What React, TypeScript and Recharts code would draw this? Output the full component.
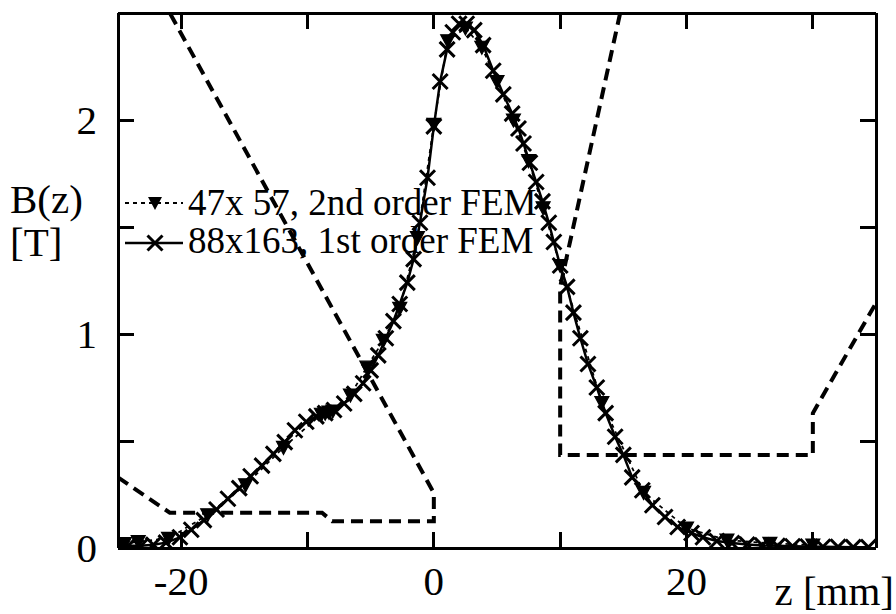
import { LineChart, Line, XAxis, YAxis } from "recharts";

// 88x163, 1st order FEM (x markers)
const firstOrder = [
  [-25.0, 0.01], [-24.2, 0.01], [-23.2, 0.01], [-22.2, 0.015], [-21.2, 0.025],
  [-20.1, 0.05], [-19.2, 0.085], [-18.2, 0.13], [-17.2, 0.18], [-16.3, 0.23],
  [-15.4, 0.28], [-14.5, 0.335], [-13.6, 0.385], [-12.7, 0.44], [-11.8, 0.495],
  [-11.0, 0.55], [-10.1, 0.59], [-9.3, 0.615], [-8.6, 0.63], [-7.9, 0.645],
  [-7.1, 0.675], [-6.3, 0.72], [-5.6, 0.77], [-5.0, 0.83], [-4.4, 0.9],
  [-3.8, 0.98], [-3.2, 1.06], [-2.7, 1.14], [-2.1, 1.24], [-1.6, 1.35],
  [-1.1, 1.52], [-0.5, 1.73], [0.0, 1.97], [0.5, 2.18], [1.05, 2.33],
  [1.5, 2.41], [2.0, 2.45], [2.6, 2.45], [3.2, 2.42], [3.9, 2.35],
  [4.7, 2.23], [5.5, 2.12], [6.2, 2.03], [6.7, 1.96], [7.1, 1.89],
  [7.6, 1.8], [8.1, 1.71], [8.6, 1.62], [9.1, 1.52], [9.5, 1.43],
  [10.0, 1.32], [10.55, 1.22], [11.05, 1.1], [11.6, 0.98], [12.2, 0.86],
  [12.9, 0.75], [13.6, 0.63], [14.35, 0.52], [15.0, 0.435], [15.7, 0.33],
  [16.5, 0.27], [17.3, 0.2], [18.3, 0.145], [19.3, 0.098], [20.4, 0.07],
  [21.3, 0.05], [22.4, 0.033], [23.6, 0.023], [24.8, 0.016], [26.0, 0.012],
  [27.2, 0.01], [28.4, 0.008], [29.6, 0.007], [30.8, 0.006], [32.0, 0.005],
  [33.2, 0.004], [34.4, 0.004],
].map(([z, b]) => ({ z, b }));

// 47x57, 2nd order FEM (filled triangles)
const secondOrder = [
  [-24.5, 0.02], [-23.4, 0.03], [-21.0, 0.045], [-17.9, 0.155], [-14.9, 0.295],
  [-11.9, 0.47], [-8.9, 0.625], [-8.6, 0.63], [-8.3, 0.635], [-8.0, 0.64],
  [-6.6, 0.715], [-5.3, 0.845], [-4.0, 0.97], [-2.7, 1.12], [-1.3, 1.45],
  [0.0, 1.98], [1.1, 2.37], [2.5, 2.43], [3.8, 2.34], [5.0, 2.18],
  [6.3, 2.0], [7.5, 1.81], [8.65, 1.59], [10.0, 1.32], [13.3, 0.68],
  [16.6, 0.26], [20.0, 0.093], [23.2, 0.037], [26.6, 0.022], [30.0, 0.014],
].map(([z, b]) => ({ z, b }));

// pole outline (dashed), two pieces
const outlineLeft = [
  [-25.0, 0.33], [-20.9, 0.165], [-8.85, 0.165], [-8.05, 0.125],
  [0.0, 0.125], [0.0, 0.257], [-20.9, 2.5],
].map(([z, b]) => ({ z, b }));

const outlineRight = [
  [14.75, 2.5], [10.0, 1.22], [10.0, 0.435], [30.0, 0.435],
  [30.0, 0.63], [35.0, 1.145],
].map(([z, b]) => ({ z, b }));

const xTicks = [-20, -10, 0, 10, 20, 30];
const xLabels = [-20, 0, 20];
const yTicks = [0, 0.5, 1, 1.5, 2];
const yLabels = [0, 1, 2];

const FONT = "'Liberation Serif', 'Times New Roman', serif";
const TICK = 16;
const FRAME = 3;

const BottomTick = (p: any) => {
  const v = p.payload.value;
  return (
    <g>
      <line x1={p.x} y1={p.y} x2={p.x} y2={p.y - TICK} stroke="#000" strokeWidth={FRAME} shapeRendering="crispEdges" />
      {xLabels.includes(v) && (
        <text x={p.x} y={p.y + 47} textAnchor="middle" fontSize={41} fontFamily={FONT} fill="#000">
          {v}
        </text>
      )}
    </g>
  );
};

const TopTick = (p: any) => (
  <line x1={p.x} y1={p.y} x2={p.x} y2={p.y + TICK} stroke="#000" strokeWidth={FRAME} shapeRendering="crispEdges" />
);

const LeftTick = (p: any) => {
  const v = p.payload.value;
  return (
    <g>
      <line x1={p.x} y1={p.y} x2={p.x + TICK} y2={p.y} stroke="#000" strokeWidth={FRAME} shapeRendering="crispEdges" />
      {yLabels.includes(v) && (
        <text x={p.x - 21} y={p.y + 14} textAnchor="end" fontSize={41} fontFamily={FONT} fill="#000">
          {v}
        </text>
      )}
    </g>
  );
};

const RightTick = (p: any) => (
  <line x1={p.x} y1={p.y} x2={p.x - TICK} y2={p.y} stroke="#000" strokeWidth={FRAME} shapeRendering="crispEdges" />
);

const triPath = (cx: number, cy: number) =>
  `M${cx - 7},${cy - 6}L${cx + 7},${cy - 6}L${cx},${cy + 7}Z`;

const TriDot = (p: any) => (
  <path key={`t${p.index}`} d={triPath(p.cx, p.cy)} fill="#000" stroke="#000" strokeWidth={1.2} />
);

const crossPath = (cx: number, cy: number, r = 7.5) =>
  `M${cx - r},${cy - r}L${cx + r},${cy + r}M${cx - r},${cy + r}L${cx + r},${cy - r}`;

const CrossDot = (p: any) => (
  <path key={`c${p.index}`} d={crossPath(p.cx, p.cy)} stroke="#000" strokeWidth={3} fill="none" />
);

const axisLine = { stroke: "#000", strokeWidth: FRAME, shapeRendering: "crispEdges" };

export default function App() {
  return (
    <div style={{ position: "absolute", left: 0, top: 0, width: 896, height: 614, background: "#fff" }}>
      <LineChart
        width={896}
        height={614}
        margin={{ top: 12, right: 19, bottom: 65, left: 117 }}
        style={{ fontFamily: FONT }}
      >
        <XAxis
          type="number"
          dataKey="z"
          domain={[-25, 35]}
          ticks={xTicks}
          allowDataOverflow
          height={1}
          tickSize={0}
          tickMargin={0}
          tickLine={false}
          tick={BottomTick}
          axisLine={axisLine}
        />
        <XAxis
          xAxisId="top"
          orientation="top"
          type="number"
          dataKey="z"
          domain={[-25, 35]}
          ticks={xTicks}
          allowDataOverflow
          height={1}
          tickSize={0}
          tickMargin={0}
          tickLine={false}
          tick={TopTick}
          axisLine={axisLine}
        />
        <YAxis
          type="number"
          domain={[0, 2.5]}
          ticks={yTicks}
          allowDataOverflow
          width={1}
          tickSize={0}
          tickMargin={0}
          tickLine={false}
          tick={LeftTick}
          axisLine={axisLine}
        />
        <YAxis
          yAxisId="right"
          orientation="right"
          type="number"
          domain={[0, 2.5]}
          ticks={yTicks}
          allowDataOverflow
          width={1}
          tickSize={0}
          tickMargin={0}
          tickLine={false}
          tick={RightTick}
          axisLine={axisLine}
        />
        <Line
          data={outlineLeft}
          dataKey="b"
          type="linear"
          stroke="#000"
          strokeWidth={4}
          strokeDasharray="12 7"
          dot={false}
          isAnimationActive={false}
        />
        <Line
          data={outlineRight}
          dataKey="b"
          type="linear"
          stroke="#000"
          strokeWidth={4}
          strokeDasharray="12 7"
          dot={false}
          isAnimationActive={false}
        />
        <Line
          data={secondOrder}
          dataKey="b"
          type="linear"
          stroke="#000"
          strokeWidth={1.8}
          strokeDasharray="4 4"
          dot={TriDot}
          isAnimationActive={false}
        />
        <Line
          data={firstOrder}
          dataKey="b"
          type="linear"
          stroke="#000"
          strokeWidth={2.5}
          dot={CrossDot}
          isAnimationActive={false}
        />
      </LineChart>
      <svg
        width={896}
        height={614}
        style={{ position: "absolute", left: 0, top: 0, pointerEvents: "none" }}
      >
        <text x={10} y={213} fontSize={41} fontFamily={FONT} fill="#000">B(z)</text>
        <text x={10} y={256} fontSize={41} fontFamily={FONT} fill="#000">[T]</text>
        <text x={894} y={605} textAnchor="end" fontSize={41} fontFamily={FONT} fill="#000">z [mm]</text>
        <g transform="translate(120,180)">
          <line x1={5} y1={23} x2={63} y2={23} stroke="#000" strokeWidth={2} strokeDasharray="4 4" />
          <path d={triPath(35, 23)} fill="#000" />
          <text x={68} y={35} fontSize={37} fontFamily={FONT} fill="#000">47x 57, 2nd order FEM</text>
          <line x1={5} y1={63} x2={63} y2={63} stroke="#000" strokeWidth={2.5} />
          <path d={crossPath(35, 63)} stroke="#000" strokeWidth={3} fill="none" />
          <text x={68} y={73} fontSize={37} fontFamily={FONT} fill="#000">88x163, 1st order FEM</text>
        </g>
      </svg>
    </div>
  );
}
